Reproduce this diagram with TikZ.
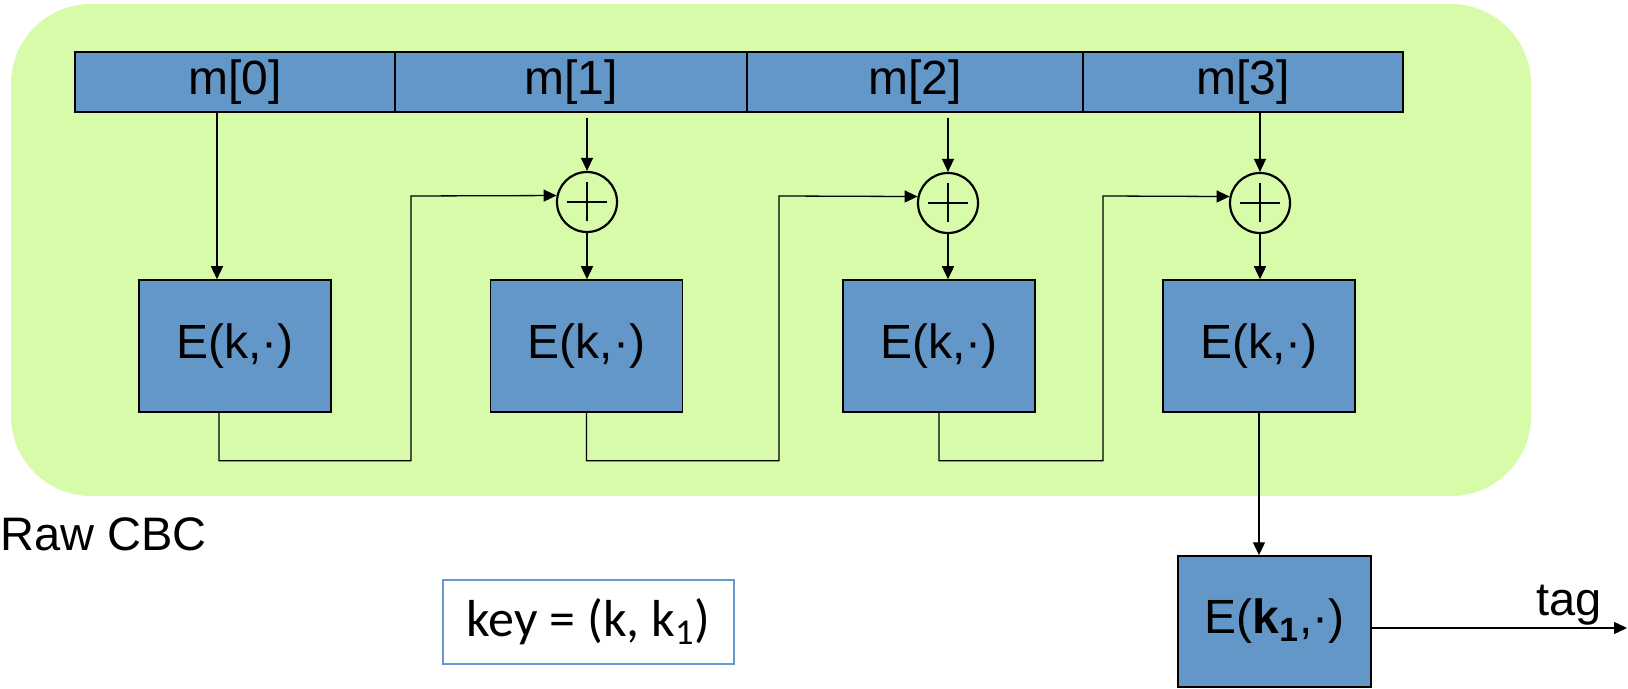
\documentclass[tikz,border=0pt]{standalone}
\usepackage{fontspec}
\setmainfont{Liberation Sans}
\newfontfamily\keyfont{Carlito}
\usetikzlibrary{arrows.meta}
\definecolor{cbcgreen}{RGB}{215,251,168}
\definecolor{blockblue}{RGB}{98,151,200}
\definecolor{keyblue}{RGB}{104,152,208}

\begin{document}
\begin{tikzpicture}[x=0.5pt,y=-0.5pt,
  blk/.style={draw,line width=0.75pt,fill=blockblue,inner sep=0pt,
    font=\fontsize{24pt}{28pt}\selectfont},
  wire/.style={line width=0.65pt},
  arr/.style={wire,-{Triangle[length=6.5pt,width=6pt]}},
  xorop/.style={circle,draw,line width=1.1pt,minimum size=30pt,inner sep=0pt,
    path picture={
      \draw[line width=1.4pt] (path picture bounding box.center) ++(-20,0) -- ++(40,0);
      \draw[line width=1.4pt] (path picture bounding box.center) ++(0,-20) -- ++(0,39);
    }}]
  \useasboundingbox (0,0) rectangle (1628,689);
  % raw CBC region
  \fill[cbcgreen,rounded corners=40pt] (11,4) rectangle (1531,496);

  % message blocks
  \node[blk,minimum width=160pt,minimum height=30pt] (m0) at (235,82) {m[0]};
  \node[blk,minimum width=176pt,minimum height=30pt] (m1) at (571,82) {m[1]};
  \node[blk,minimum width=168pt,minimum height=30pt] (m2) at (915,82) {m[2]};
  \node[blk,minimum width=160pt,minimum height=30pt] (m3) at (1243,82) {m[3]};

  % xor gates
  \node[xorop] (x1) at (587,202) {};
  \node[xorop] (x2) at (948,203) {};
  \node[xorop] (x3) at (1260,203) {};

  % block cipher
  \node[blk,minimum width=96pt,minimum height=66pt] (e0) at (235,346) {E(k,·)};
  \node[blk,minimum width=96pt,minimum height=66pt] (e1) at (586.5,346) {E(k,·)};
  \node[blk,minimum width=96pt,minimum height=66pt] (e2) at (939,346) {E(k,·)};
  \node[blk,minimum width=96pt,minimum height=66pt] (e3) at (1259,346) {E(k,·)};
  \node[blk,minimum width=96.5pt,minimum height=65.5pt] (ef) at (1274.5,621.5) {E(\textbf{k\textsubscript{1}},·)};

  \node[anchor=base west,font=\fontsize{23.5pt}{28pt}\selectfont] (raw) at (-7,551) {Raw CBC};
  \node[draw=keyblue,line width=0.75pt,minimum width=145.5pt,minimum height=42pt,inner sep=0pt,
    font=\keyfont\fontsize{26pt}{30pt}\selectfont] (key) at (588.5,622) {key = (k, k\textsubscript{1})};

  % message inputs
  \draw[arr] ([xshift=-9pt]m0.south) -- ([xshift=-9pt]e0.north);
  \draw[arr,shorten <=2.5pt] (x1 |- m1.south) -- (x1.north);
  \draw[arr,shorten <=2.5pt] (x2 |- m2.south) -- (x2.north);
  \draw[arr] (x3 |- m3.south) -- (x3.north);
  \draw[arr] (x1.south) -- (x1 |- e1.north);
  \draw[arr] (x2.south) -- (x2 |- e2.north);
  \draw[arr] (x3.south) -- (x3 |- e3.north);

  % chaining
  \draw[arr] ([xshift=-8pt]e0.south) -- ++(0,48) -| (411,196) -- (x1.168);
  \draw[arr] (e1.south) -- ++(0,48) -| (779,196) -- (x2.168);
  \draw[arr] (e2.south) -- ++(0,48) -| (1103,196) -- (x3.168);
  \draw[arr] (e3.south) -- (e3.south |- ef.north);

  % output
  \coordinate (tagend) at (1627,628);
  \draw[arr] (ef.east |- tagend) -- (tagend);
  \node[anchor=base east,font=\fontsize{23.5pt}{28pt}\selectfont] (tag) at (1609,615) {tag};
\end{tikzpicture}
\end{document}
